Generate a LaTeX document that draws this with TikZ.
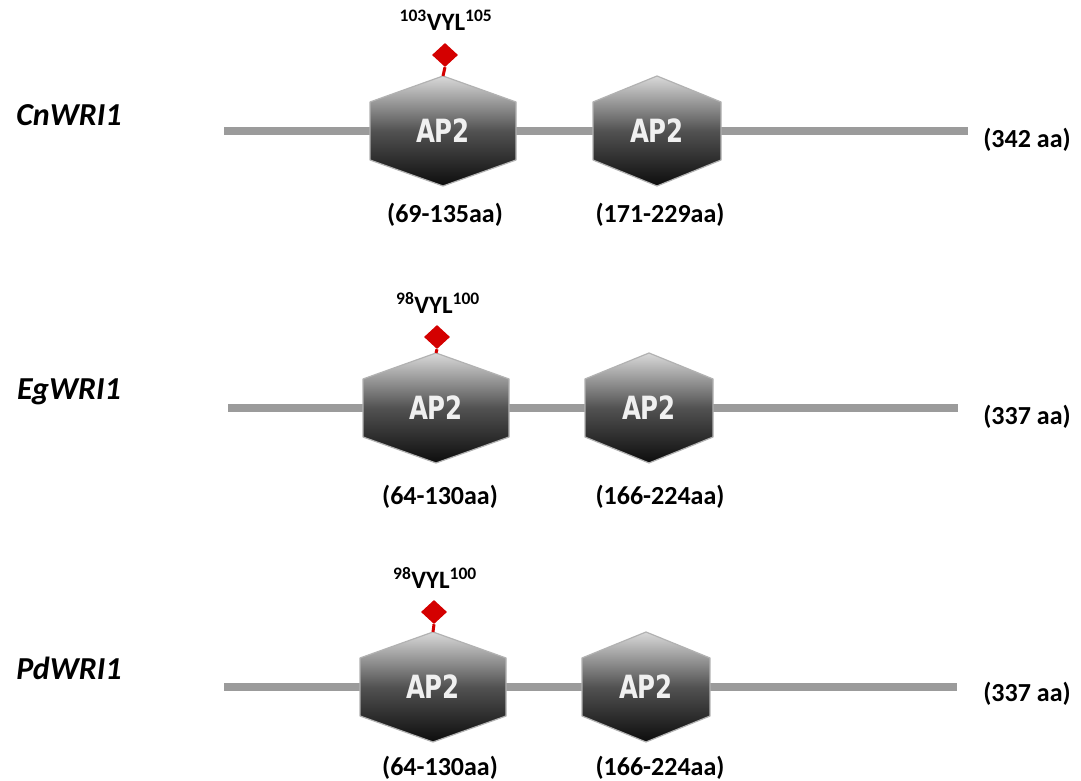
\documentclass[tikz,border=0pt]{standalone}
\usepackage{fontspec}
\setmainfont{Carlito}
\newfontfamily\apfont{DejaVu Sans Condensed}
\usetikzlibrary{shapes.geometric,calc}
\definecolor{linegray}{HTML}{9B9B9B}
\definecolor{mkred}{HTML}{D40000}
\tikzset{
  hexbox/.style={draw=none,minimum height=110pt,inner sep=0pt,outer sep=0pt},
  hexfill/.style={draw=black!30,line width=1.2pt,top color=black!15,bottom color=black!95,middle color=black!68,line join=round},
  backbone/.style={draw=linegray,line width=8pt},
  gene/.style={font=\fontsize{32}{32}\selectfont\bfseries\itshape},
  lenlab/.style={font=\fontsize{26}{26}\selectfont\bfseries},
  rangelab/.style={font=\fontsize{26}{26}\selectfont\bfseries},
  motif/.style={font=\fontsize{25}{25}\selectfont\bfseries},
  site/.style={diamond,fill=mkred,draw=none,minimum width=26pt,minimum height=24pt,inner sep=0pt},
  stem/.style={draw=mkred,line width=3pt},
  aptext/.style={inner sep=0pt,text=black!6}
}
% #1 name, #2 x, #3 y, #4 half width
\newcommand{\drawhex}[4]{%
  \node[hexbox,minimum width=#4*2pt] (#1) at (#2,#3) {};
  \path[hexfill] ($(#1.center)+(0,55)$) -- ++(-#4,-26) -- ++(0,-58) -- ++(#4,-26) -- ++(#4,26) -- ++(0,58) -- cycle;
  \node[aptext] (#1t) at (#1.center) {\apfont\fontsize{32}{32}\selectfont\bfseries\scalebox{0.85}[1]{AP2}};
}
\begin{document}
\begin{tikzpicture}[x=1pt,y=1pt]
\useasboundingbox (0,0) rectangle (1081,781);
\fill[white] (0,0) rectangle (1081,781);

% ---------- Row 1 ----------
\coordinate (s1) at (224,650);
\coordinate (e1) at (968,650);
\node[gene] (g1) at (69,666) {CnWRI1};
\node[hexbox,minimum width=146pt] (h11) at (443,650) {};
\node[hexbox,minimum width=128pt] (h12) at (657,650) {};
\draw[backbone] (s1) -- (h11.west);
\draw[backbone] (h11.east) -- (h12.west);
\draw[backbone] (h12.east) -- (e1);
\drawhex{h11}{443}{650}{73}
\drawhex{h12}{657}{650}{64}
\node[site] (d1) at (445,726) {};
\draw[stem] (d1.south) -- (h11.north);
\node[motif] (v1) at (446,761) {\textsuperscript{103}VYL\textsuperscript{105}};
\node[rangelab] (r11) at (445,566) {(69-135aa)};
\node[rangelab] (r12) at (660,566) {(171-229aa)};
\node[lenlab] (l1) at (1027,641) {(342 aa)};

% ---------- Row 2 ----------
\coordinate (s2) at (228,373);
\coordinate (e2) at (958,373);
\node[gene] (g2) at (69,389) {EgWRI1};
\node[hexbox,minimum width=146pt] (h21) at (436,373) {};
\node[hexbox,minimum width=128pt] (h22) at (649,373) {};
\draw[backbone] (s2) -- (h21.west);
\draw[backbone] (h21.east) -- (h22.west);
\draw[backbone] (h22.east) -- (e2);
\drawhex{h21}{436}{373}{73}
\drawhex{h22}{649}{373}{64}
\node[site] (d2) at (437,444) {};
\draw[stem] (d2.south) -- (h21.north);
\node[motif] (v2) at (438,478) {\textsuperscript{98}VYL\textsuperscript{100}};
\node[rangelab] (r21) at (440,284) {(64-130aa)};
\node[rangelab] (r22) at (660,284) {(166-224aa)};
\node[lenlab] (l2) at (1027,364) {(337 aa)};

% ---------- Row 3 ----------
\coordinate (s3) at (224,94);
\coordinate (e3) at (957,94);
\node[gene] (g3) at (69,113) {PdWRI1};
\node[hexbox,minimum width=146pt] (h31) at (433,94) {};
\node[hexbox,minimum width=128pt] (h32) at (646,94) {};
\draw[backbone] (s3) -- (h31.west);
\draw[backbone] (h31.east) -- (h32.west);
\draw[backbone] (h32.east) -- (e3);
\drawhex{h31}{433}{94}{73}
\drawhex{h32}{646}{94}{64}
\node[site] (d3) at (434,169) {};
\draw[stem] (d3.south) -- (h31.north);
\node[motif] (v3) at (435,203) {\textsuperscript{98}VYL\textsuperscript{100}};
\node[rangelab] (r31) at (440,13) {(64-130aa)};
\node[rangelab] (r32) at (660,13) {(166-224aa)};
\node[lenlab] (l3) at (1027,87) {(337 aa)};
\end{tikzpicture}
\end{document}
